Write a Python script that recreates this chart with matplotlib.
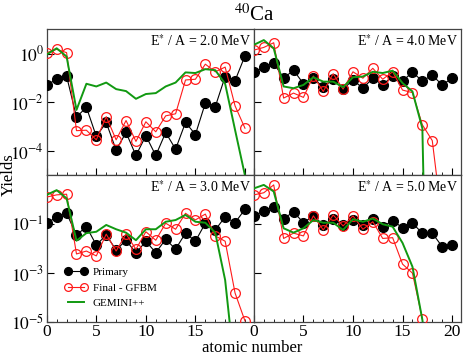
import numpy as np
import matplotlib
matplotlib.use("Agg")
import matplotlib.pyplot as plt
from matplotlib.ticker import FixedLocator, LogLocator, MultipleLocator, FuncFormatter, NullFormatter

plt.rcParams['font.family'] = ['Liberation Serif', 'DejaVu Serif']
plt.rcParams['mathtext.fontset'] = 'stix'

nan = np.nan
z = np.arange(21)

# E*/A = 2.0 MeV
prim_2 = [5.2e-2, 8.9e-2, 1.2e-1, 2.5e-3, 6.3e-3, 4.0e-4, 1.5e-3, 1.1e-4, 5.8e-4, 6.6e-5, 4.3e-4,
          6.6e-5, 5.8e-4, 1.2e-4, 1.5e-3, 4.8e-4, 9.3e-3, 6.6e-3, 1.15e-1, 7.8e-2, 8.1e-1]
gfbm_2 = [1.1, 1.5, 1.1, 6.9e-4, 7.2e-4, 2.9e-4, 2.6e-3, 2.9e-4, 1.8e-3, 2.5e-4, 1.6e-3,
          6.2e-4, 2.8e-3, 3.4e-3, 8.3e-2, 8.9e-2, 3.7e-1, 1.8e-1, 2.8e-1, 7.2e-3, 8.7e-4]
gem_2 = [0.93, 1.66, 0.76, 4.9e-3, 5.8e-2, 4.5e-2, 6.5e-2, 3.5e-2, 2.9e-2, 1.4e-2, 2.2e-2,
         2.4e-2, 4.5e-2, 6.5e-2, 1.7e-1, 1.6e-1, 2.3e-1, 2.1e-1, 5.8e-2, 7.4e-4, 1.0e-5]

# E*/A = 4.0 MeV
prim_4 = [0.17, 0.27, 0.41, 9.8e-2, 0.21, 5.8e-2, 9.8e-2, 4.2e-2, 8.9e-2, 3.5e-2, 8.3e-2,
          3.8e-2, 9.8e-2, 5.2e-2, 0.12, 7.6e-2, 0.17, 7.6e-2, 0.13, 5.2e-2, 9.8e-2]
gfbm_4 = [1.4, 1.8, 2.8, 1.5e-2, 2.4e-2, 1.6e-2, 0.12, 2.8e-2, 0.15, 3.5e-2, 0.18,
          9.8e-2, 0.25, 8.9e-2, 0.18, 3.2e-2, 2.5e-2, 1.2e-3, 2.7e-4, 1.3e-7, nan]
gem_4 = [2.3, 3.6, 1.66, 4.5e-2, 3.8e-2, 5.2e-2, 0.107, 7.1e-2, 7.1e-2, 4.2e-2, 0.107,
         0.115, 0.18, 0.16, 0.2, 6.2e-2, 2.8e-2, 8.7e-4, 1e-22, nan, nan]

# E*/A = 3.0 MeV
prim_3 = [0.115, 0.19, 0.28, 3.6e-2, 7.9e-2, 1.4e-2, 3.6e-2, 8.7e-3, 2.2e-2, 6.5e-3, 2.0e-2,
          6.8e-3, 2.4e-2, 9.5e-3, 4.3e-2, 2.0e-2, 0.11, 5.8e-2, 0.2, 0.115, 0.41]
gfbm_3 = [1.3, 1.6, 1.7, 6.0e-3, 7.9e-3, 5.0e-3, 3.9e-2, 7.9e-3, 4.0e-2, 9.3e-3, 4.9e-2,
          2.2e-2, 0.11, 6.2e-2, 0.28, 0.15, 0.26, 3.3e-2, 2.0e-2, 1.5e-4, 1.07e-5]
gem_3 = [1.6, 2.5, 1.15, 2.1e-2, 4.3e-2, 4.9e-2, 9.3e-2, 6.2e-2, 4.5e-2, 2.2e-2, 6.2e-2,
         6.2e-2, 0.126, 0.148, 0.24, 0.126, 0.115, 4.5e-2, 5.1e-4, 8e-8, nan]

# E*/A = 5.0 MeV
prim_5 = [0.22, 0.35, 0.52, 0.17, 0.32, 0.115, 0.22, 9.3e-2, 0.16, 9.3e-2, 0.148,
          9.3e-2, 0.16, 7.9e-2, 0.14, 7.2e-2, 0.11, 4.3e-2, 4.3e-2, 1.2e-2, 1.4e-2]
gfbm_5 = [1.6, 1.95, 4.1, 2.6e-2, 4.3e-2, 3.3e-2, 0.22, 5.8e-2, 0.24, 8.5e-2, 0.22,
          6.2e-2, 0.126, 2.6e-2, 2.8e-2, 2.3e-3, 9.8e-4, 1.3e-5, nan, nan, nan]
gem_5 = [2.95, 4.1, 2.2, 6.8e-2, 4.5e-2, 6.8e-2, 0.148, 0.115, 0.115, 5.8e-2, 0.16,
         0.126, 0.17, 0.10, 7.9e-2, 1.7e-2, 1.8e-3, 1.2e-5, 1e-8, nan, nan]

energies = ['2.0', '4.0', '3.0', '5.0']
panels = [(prim_2, gfbm_2, gem_2), (prim_4, gfbm_4, gem_4),
          (prim_3, gfbm_3, gem_3), (prim_5, gfbm_5, gem_5)]

red = '#ff1a1a'
green = '#119911'

fig = plt.figure(figsize=(4.63, 3.57), dpi=100)
gs = fig.add_gridspec(2, 2, left=0.101, right=0.9957, bottom=0.099, top=0.918,
                      hspace=0, wspace=0)


def pow_fmt(v, pos):
    return r'$10^{%d}$' % int(round(np.log10(v)))


for i, (prim, gfbm, gem) in enumerate(panels):
    row, col = divmod(i, 2)
    ax = fig.add_subplot(gs[row, col])
    ax.plot(z, prim, '-o', color='black', lw=0.8, ms=7, label='Primary', zorder=3)
    ax.plot(z, gfbm, '-o', color=red, lw=0.8, ms=7, mfc='none', mew=0.9,
            label='Final - GFBM', zorder=4)
    ax.plot(z, gem, '-', color=green, lw=1.4, label='GEMINI++', zorder=5)
    ax.set_yscale('log')
    ax.set_ylim(1e-5, 10)
    ax.set_xlim(0, 20.9)

    if row == 0:
        ax.yaxis.set_major_locator(FixedLocator([1, 1e-2, 1e-4]))
    else:
        ax.yaxis.set_major_locator(FixedLocator([1e-1, 1e-3, 1e-5]))
    ax.yaxis.set_minor_locator(LogLocator(base=10, subs=np.arange(1, 10)))
    ax.yaxis.set_minor_formatter(NullFormatter())
    ax.yaxis.set_major_formatter(FuncFormatter(pow_fmt))
    ax.xaxis.set_major_locator(MultipleLocator(5))
    ax.xaxis.set_minor_locator(MultipleLocator(1))
    ax.tick_params(which='both', direction='in', top=False, right=False, labelsize=12.5)
    ax.tick_params(which='major', length=5, width=0.8)
    ax.tick_params(which='minor', length=2.5, width=0.6)
    ax.tick_params(axis='y', pad=2)
    ax.tick_params(axis='x', pad=2)
    if col == 1:
        ax.tick_params(labelleft=False)
    if row == 0:
        ax.tick_params(labelbottom=False)
    elif col == 0:
        ax.set_xticks([0, 5, 10, 15])
    for s in ax.spines.values():
        s.set_linewidth(0.9)
        s.set_color('#444444')

    ax.text(0.985, 0.975, r'E$^{*}$ / A = %s MeV' % energies[i], transform=ax.transAxes,
            ha='right', va='top', fontsize=10)

    if i == 2:
        ax.legend(loc='lower left', bbox_to_anchor=(0.05, 0.04), frameon=False, fontsize=8,
                  numpoints=2, markerscale=0.8, handlelength=2.0, labelspacing=0.5,
                  borderpad=0.2, handletextpad=0.5)

fig.text(0.55, 0.958, r'$^{40}$Ca', ha='center', va='center', fontsize=15)
fig.text(0.02, 0.51, 'Yields', rotation=90, ha='center', va='center', fontsize=12)
fig.text(0.545, 0.026, 'atomic number', ha='center', va='center', fontsize=12)

fig.savefig('out.png', dpi=100)
